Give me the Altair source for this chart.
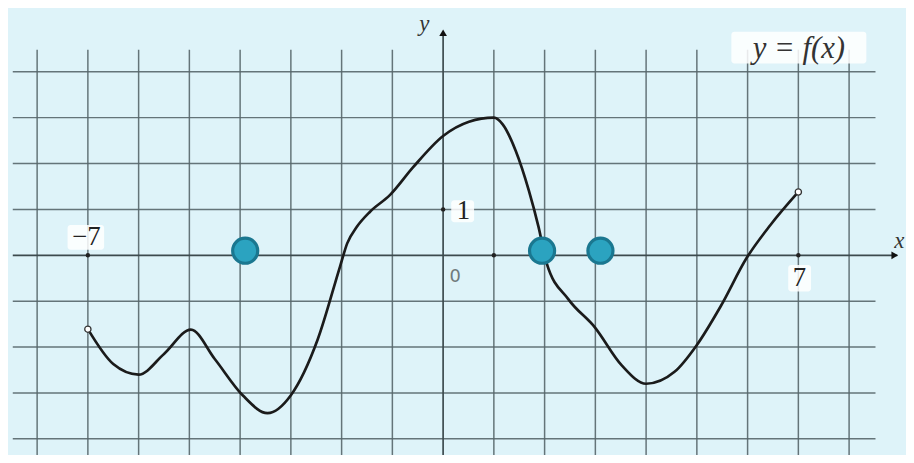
import altair as alt
import pandas as pd

# ---- data ----
curve_x = [-7.0, -6.5, -6.0, -5.5, -4.97, -4.5, -3.95, -3.46, -3.0, -2.47,
           -2.03, -1.89, -1.70, -1.44, -1.05, -0.59, 0.0, 0.51, 1.0, 1.17,
           1.43, 1.69, 1.88, 2.04, 2.47, 2.99, 3.52, 4.0, 4.56, 4.99,
           5.47, 5.98, 6.45, 7.0]
curve_y = [-1.61, -2.37, -2.60, -2.15, -1.62, -2.26, -3.05, -3.44, -3.05, -1.83,
           -0.24, 0.26, 0.62, 0.95, 1.31, 1.92, 2.60, 2.91, 3.0, 2.86,
           2.28, 1.41, 0.62, -0.17, -0.96, -1.57, -2.40, -2.80, -2.54, -1.97,
           -1.11, -0.06, 0.66, 1.38]

marker_x = [-3.9, 1.95, 3.1]
marker_y = [0.1, 0.1, 0.1]

end_x = [-7.0, 7.0]
end_y = [-1.61, 1.38]

grid_x = list(range(-8, 9))
grid_y = list(range(-4, 5))

tick_x = [-7, 1, 7, 0]
tick_y = [0, 0, 0, 1]

label_text = ["−7", "1", "7"]
label_x = [-7.03, 0.40, 7.02]
label_y = [0.40, 0.96, -0.50]

box_x = [-7.40, 0.16, 6.80, 5.68]
box_x2 = [-6.68, 0.61, 7.25, 8.34]
box_y = [0.66, 1.20, -0.21, 4.87]
box_y2 = [0.12, 0.72, -0.79, 4.18]

W, H = 898, 447
xs = alt.Scale(domain=[-8.574, 8.965], nice=False, zero=False)
ys = alt.Scale(domain=[-4.309, 5.346], nice=False, zero=False)

def X(f):
    return alt.X(f, type="quantitative", scale=xs, axis=None)

def Y(f):
    return alt.Y(f, type="quantitative", scale=ys, axis=None)

grid_col = "#56666a"

vgrid = alt.Chart(pd.DataFrame({"x": [g for g in grid_x if g != 0],
                                "y1": 4.48, "y2": -4.4})).mark_rule(
    color=grid_col, strokeWidth=1.5, opacity=0.9
).encode(x=X("x"), y=Y("y1"), y2="y2")

hgrid = alt.Chart(pd.DataFrame({"y": [g for g in grid_y if g != 0],
                                "x1": -8.48, "x2": 8.52})).mark_rule(
    color=grid_col, strokeWidth=1.5, opacity=0.9
).encode(y=Y("y"), x=X("x1"), x2="x2")

xaxis = alt.Chart(pd.DataFrame({"y": [0], "x1": [-8.48], "x2": [8.95]})).mark_rule(
    color="#3c4a4e", strokeWidth=1.7
).encode(y=Y("y"), x=X("x1"), x2="x2")

yaxis = alt.Chart(pd.DataFrame({"x": [0], "y1": [-4.4], "y2": [4.87]})).mark_rule(
    color="#3c4a4e", strokeWidth=1.7
).encode(x=X("x"), y=Y("y1"), y2="y2")

arrows = alt.Chart(pd.DataFrame({"x": [8.9, 0.0], "y": [0.0, 4.85],
                                 "s": ["triangle-right", "triangle-up"]})).mark_point(
    filled=True, color="#111", size=60, opacity=1
).encode(x=X("x"), y=Y("y"),
         shape=alt.Shape("s:N", scale=None, legend=None))

ticks = alt.Chart(pd.DataFrame({"x": tick_x, "y": tick_y})).mark_point(
    filled=True, color="#222", size=20, opacity=1
).encode(x=X("x"), y=Y("y"))

boxes = alt.Chart(pd.DataFrame({"x": box_x, "x2": box_x2, "y": box_y, "y2": box_y2})).mark_rect(
    color="white", opacity=0.85, cornerRadius=3
).encode(x=X("x"), x2="x2", y=Y("y"), y2="y2")

curve = alt.Chart(pd.DataFrame({"x": curve_x, "y": curve_y})).mark_line(
    color="#1b1b1b", strokeWidth=2.7, interpolate="monotone"
).encode(x=X("x"), y=Y("y"))

ends = alt.Chart(pd.DataFrame({"x": end_x, "y": end_y})).mark_point(
    shape="circle", filled=True, fill="white", stroke="#333", strokeWidth=1.3,
    size=40, opacity=1
).encode(x=X("x"), y=Y("y"))

markers = alt.Chart(pd.DataFrame({"x": marker_x, "y": marker_y})).mark_point(
    shape="circle", filled=True, fill="#2ba3c0", stroke="#1a7790", strokeWidth=3.2,
    size=640, opacity=1
).encode(x=X("x"), y=Y("y"))

labels = alt.Chart(pd.DataFrame({"t": label_text, "x": label_x, "y": label_y})).mark_text(
    font="Liberation Serif", fontSize=27, color="#222", align="center", baseline="middle"
).encode(x=X("x"), y=Y("y"), text="t:N")

zero = alt.Chart(pd.DataFrame({"t": ["0"], "x": [0.24], "y": [-0.48]})).mark_text(
    font="DejaVu Sans", fontSize=18, color="#6f7a7c", align="center", baseline="middle"
).encode(x=X("x"), y=Y("y"), text="t:N")

title_txt = alt.Chart(pd.DataFrame({"t": ["y  =  f(x)"], "x": [7.01], "y": [4.50]})).mark_text(
    font="Liberation Serif", fontSize=31, fontStyle="italic", color="#333",
    align="center", baseline="middle"
).encode(x=X("x"), y=Y("y"), text="t:N")

axis_names = alt.Chart(pd.DataFrame({"t": ["y", "x"], "x": [-0.37, 8.99], "y": [5.04, 0.30]})).mark_text(
    font="Liberation Serif", fontSize=23, fontStyle="italic", color="#333",
    align="center", baseline="middle"
).encode(x=X("x"), y=Y("y"), text="t:N")

chart = alt.layer(
    vgrid, hgrid, xaxis, yaxis, boxes, curve, ticks, arrows,
    labels, zero, title_txt, axis_names, ends, markers
).properties(
    width=W, height=H,
    autosize=alt.AutoSizeParams(type="none"),
    padding={"left": 0, "top": 0, "right": 8, "bottom": 0},
    background="#def3f9",
    usermeta={"embedOptions": {"defaultStyle": "body{background:#def3f9}"}}
).configure_view(stroke=None)

chart.save("out.html", embed_options={"renderer": "svg", "actions": False})
